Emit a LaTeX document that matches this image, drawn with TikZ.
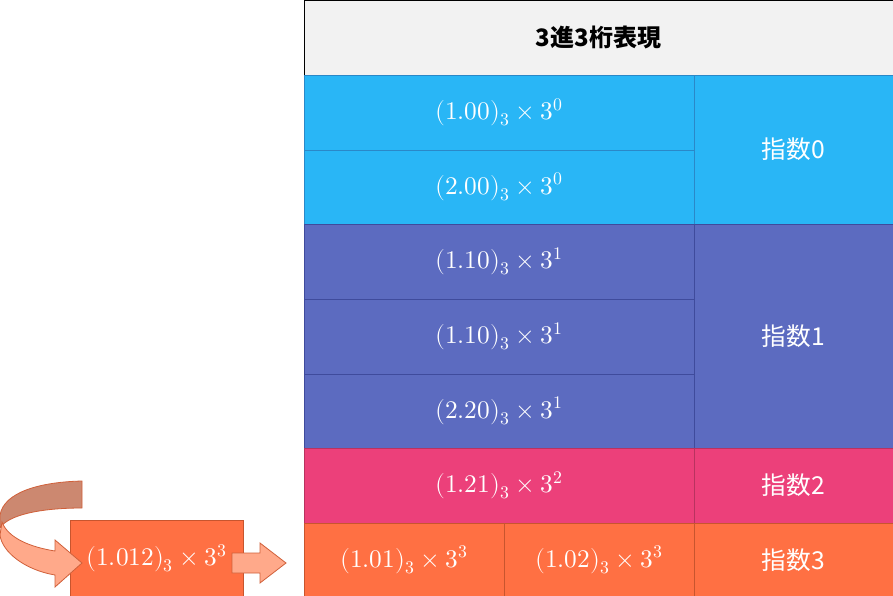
\documentclass[tikz,border=0pt]{standalone}
\usepackage{fontspec}
\usepackage{unicode-math}
\setmathfont{Latin Modern Math}
\newfontfamily\jp{Noto Sans CJK JP}
\definecolor{hdfill}{HTML}{F2F2F2}
\definecolor{blue0}{HTML}{29B6F6}
\definecolor{blue0d}{HTML}{2A88C8}
\definecolor{ind1}{HTML}{5C6BC0}
\definecolor{ind1d}{HTML}{3F4B9C}
\definecolor{pink2}{HTML}{EC407A}
\definecolor{pink2d}{HTML}{B8335F}
\definecolor{org3}{HTML}{FF7043}
\definecolor{org3d}{HTML}{C8552E}
\definecolor{arrfill}{HTML}{FFA98A}
\definecolor{arrback}{HTML}{CC8870}
\definecolor{arrline}{HTML}{D0603A}

\tikzset{
  sz/.style 2 args={minimum width=#1*0.75pt, minimum height=#2*0.75pt},
  cell/.style={inner sep=0pt, line width=0.75pt, text=white,
    font=\fontsize{19}{22}\selectfont},
  lvl0/.style={cell, fill=blue0, draw=blue0d},
  lvl1/.style={cell, fill=ind1, draw=ind1d},
  lvl2/.style={cell, fill=pink2, draw=pink2d},
  lvl3/.style={cell, fill=org3, draw=org3d},
  expo/.style={font=\jp\fontsize{18.5}{22}\selectfont},
}

\begin{document}
\begin{tikzpicture}[x=0.75pt,y=-0.75pt]
\useasboundingbox (0,0) rectangle (893,596);
\node[cell, fill=hdfill, draw=black, text=black,
  font=\jp\bfseries\fontsize{18}{22}\selectfont,
  sz={589}{75}] (head) at (598.5,37.5) {3進3桁表現};

\node[lvl0, sz={390}{75}] (b1) at (499,112.5) {$(1.00)_3\times3^0$};
\node[lvl0, sz={390}{74}] (b2) at (499,187)   {$(2.00)_3\times3^0$};
\node[lvl0, expo, sz={199}{149}] (e0) at (793.5,149.5) {指数0};

\node[lvl1, sz={390}{75}] (i1) at (499,261.5) {$(1.10)_3\times3^1$};
\node[lvl1, sz={390}{75}] (i2) at (499,336.5) {$(1.10)_3\times3^1$};
\node[lvl1, sz={390}{74}] (i3) at (499,411)   {$(2.20)_3\times3^1$};
\node[lvl1, expo, sz={199}{224}] (e1) at (793.5,336) {指数1};

\node[lvl2, sz={390}{75}] (p1) at (499,485.5) {$(1.21)_3\times3^2$};
\node[lvl2, expo, sz={199}{75}] (e2) at (793.5,485.5) {指数2};

\node[lvl3, sz={200}{74}] (o1) at (404,560) {$(1.01)_3\times3^3$};
\node[lvl3, sz={190}{74}] (o2) at (599,560) {$(1.02)_3\times3^3$};
\node[lvl3, expo, sz={199}{74}] (e3) at (793.5,560) {指数3};

\node[lvl3, sz={173}{77}] (new) at (156.5,558.5) {$(1.012)_3\times3^3$};

\draw[arrline, fill=arrback, line width=0.6pt]
  (82,481) .. controls (40,482) and (4,492) .. (0,515)
  -- (0,528) .. controls (8,515) and (40,508) .. (82,508) -- cycle;
\coordinate (tip) at (82,563);
\draw[arrline, fill=arrfill, line width=0.6pt]
  (2,522) .. controls (8,538) and (30,547) .. (55,551)
  -- (55,540) -- (tip) -- (55,587) -- (55,575)
  .. controls (25,570) and (2,552) .. (0,535) -- cycle;

\draw[arrline, fill=arrfill, line width=0.6pt]
  (232,553) -- (260,553) -- (260,543) -- (286,563)
  -- (260,583) -- (260,573) -- (232,573) -- cycle;
\end{tikzpicture}
\end{document}
